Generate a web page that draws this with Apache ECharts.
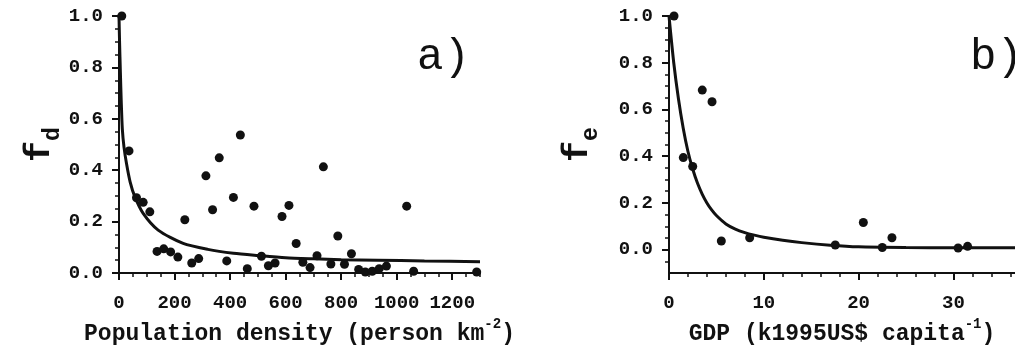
<!DOCTYPE html>
<html>
<head>
<meta charset="utf-8">
<script src="https://cdn.jsdelivr.net/npm/echarts@6/dist/echarts.min.js"></script>
<style>
html,body{margin:0;padding:0;background:#fff;}
#chart{width:1015px;height:345px;}
</style>
</head>
<body>
<div id="chart"></div>
<script>
// ---- Panel a) : population density vs f_d ----
const densX = [10,36,63,87,111,137,161,186,212,237,262,287,313,337,361,388,412,437,462,486,513,538,562,587,612,638,662,688,713,736,763,788,812,837,863,887,912,937,963,1036,1061,1288];
const densY = [1.0,0.475,0.293,0.275,0.238,0.084,0.094,0.082,0.062,0.207,0.039,0.056,0.378,0.246,0.448,0.047,0.294,0.537,0.017,0.260,0.065,0.028,0.039,0.220,0.263,0.115,0.042,0.021,0.067,0.413,0.035,0.144,0.034,0.075,0.014,0.004,0.007,0.017,0.027,0.260,0.007,0.004];
const fdCurveX = [0,2,5,8,12,18,27,40,57,87,141,231,320,412,500,600,700,800,930,1100,1300];
const fdCurveY = [1.0,0.9,0.78,0.67,0.56,0.49,0.426,0.355,0.297,0.232,0.167,0.115,0.092,0.077,0.068,0.059,0.055,0.052,0.05,0.047,0.044];

// ---- Panel b) : GDP vs f_e ----
const gdpX = [0.53,1.51,2.5,3.51,4.54,5.52,8.51,17.54,20.5,22.5,23.52,30.5,31.5];
const feY = [1.0,0.394,0.356,0.683,0.633,0.037,0.051,0.020,0.116,0.009,0.051,0.007,0.014];
const feCurveX = [0,0.5,1,1.5,2,2.5,3,3.5,4,4.5,5,6,7,8,9,10,12,14,17,20,25,30,36.5];
const feCurveY = [1.0,0.80,0.645,0.52,0.42,0.345,0.285,0.238,0.2,0.17,0.146,0.11,0.088,0.073,0.062,0.053,0.04,0.03,0.019,0.012,0.009,0.008,0.008];

// ---- tick labels ----
const densTicks = [0,200,400,600,800,1000,1200];
const gdpTicks = [0,10,20,30];
const fTicks = [0.0,0.2,0.4,0.6,0.8,1.0];

const panelA = 'a)';
const panelB = 'b)';
const xNameA = ['Population density (person km', '-2', ')'];
const xNameB = ['GDP (k1995US$ capita', '-1', ')'];
const yNameA = ['f', 'd'];
const yNameB = ['f', 'e'];

function steps(a, b, s) { const r = []; for (let v = a; v <= b + 1e-9; v += s) r.push(+v.toFixed(4)); return r; }

const FONT = 'Liberation Mono';
const INK = '#111111';

function pairs(xs, ys) { return xs.map((x, i) => [x, ys[i]]); }

function majorX(grid, max, ticks, name) {
  return {
    type: 'value', gridIndex: grid, min: 0, max: max, position: 'bottom',
    axisLine: { show: true, onZero: false, lineStyle: { color: INK, width: 2 } },
    axisTick: { show: true, customValues: ticks, length: 7, lineStyle: { color: INK, width: 2 } },
    axisLabel: { show: true, customValues: ticks, margin: 21, color: INK, hideOverlap: false,
      fontFamily: FONT, fontWeight: 'bold', fontSize: 19, formatter: v => String(v) },
    splitLine: { show: false },
    name: '{n|' + name[0] + '}{s|' + name[1] + '}{n|' + name[2] + '}',
    nameLocation: 'middle', nameGap: 37,
    nameTextStyle: { rich: {
      n: { fontFamily: FONT, fontWeight: 'bold', fontSize: 23, color: INK, lineHeight: 28, verticalAlign: 'bottom' },
      s: { fontFamily: FONT, fontWeight: 'bold', fontSize: 14, color: INK, lineHeight: 28, verticalAlign: 'top' }
    } }
  };
}
function minorX(grid, max, ticks) {
  return {
    type: 'value', gridIndex: grid, min: 0, max: max, position: 'bottom',
    axisLine: { show: true, onZero: false, lineStyle: { color: INK, width: 2 } },
    axisTick: { show: true, customValues: ticks, length: 4, lineStyle: { color: INK, width: 1.5 } },
    axisLabel: { show: false, customValues: ticks }, splitLine: { show: false }
  };
}
function majorY(grid, min, name, gap) {
  return {
    type: 'value', gridIndex: grid, min: min, max: 1.0, position: 'left',
    axisLine: { show: true, onZero: false, lineStyle: { color: INK, width: 2 } },
    axisTick: { show: true, customValues: fTicks, length: 7, lineStyle: { color: INK, width: 2 } },
    axisLabel: { show: true, customValues: fTicks, margin: 16, color: INK, hideOverlap: false,
      fontFamily: FONT, fontWeight: 'bold', fontSize: 19, formatter: v => Number(v).toFixed(1) },
    splitLine: { show: false },
    name: '{f|' + name[0] + '}{s|' + name[1] + '}',
    nameLocation: 'middle', nameRotate: 90, nameGap: gap,
    nameTextStyle: { rich: {
      f: { fontFamily: FONT, fontWeight: 'bold', fontSize: 35, color: INK, lineHeight: 42, verticalAlign: 'top' },
      s: { fontFamily: FONT, fontWeight: 'bold', fontSize: 23, color: INK, lineHeight: 42, verticalAlign: 'bottom' }
    } }
  };
}
function minorY(grid, min, ticks) {
  return {
    type: 'value', gridIndex: grid, min: min, max: 1.0, position: 'left',
    axisLine: { show: true, onZero: false, lineStyle: { color: INK, width: 2 } },
    axisTick: { show: true, customValues: ticks, length: 4, lineStyle: { color: INK, width: 1.5 } },
    axisLabel: { show: false, customValues: ticks }, splitLine: { show: false }
  };
}

const chart = echarts.init(document.getElementById('chart'), null, { renderer: 'canvas' });
chart.setOption({
  backgroundColor: '#fff',
  animation: false,
  grid: [
    { left: 119, top: 16, width: 361, height: 257, containLabel: false, outerBoundsMode: 'none' },
    { left: 669, top: 16, width: 346, height: 257, containLabel: false, outerBoundsMode: 'none' }
  ],
  xAxis: [
    majorX(0, 1300, densTicks, xNameA),
    minorX(0, 1300, steps(0, 1300, 50)),
    majorX(1, 36.5, gdpTicks, xNameB),
    minorX(1, 36.5, steps(0, 36, 2))
  ],
  yAxis: [
    majorY(0, 0, yNameA, 54),
    minorY(0, 0, steps(0, 1, 0.05)),
    majorY(1, -0.1, yNameB, 66),
    minorY(1, -0.1, steps(-0.05, 1, 0.05))
  ],
  graphic: [
    { type: 'text', left: 417, top: 35, style: { text: panelA, font: '44px "Liberation Mono"', fill: INK } },
    { type: 'text', left: 970, top: 35, style: { text: panelB, font: '44px "Liberation Mono"', fill: INK } }
  ],
  series: [
    { type: 'line', xAxisIndex: 1, yAxisIndex: 1, data: pairs(fdCurveX, fdCurveY), smooth: 0.25,
      showSymbol: false, lineStyle: { color: INK, width: 3 }, z: 2 },
    { type: 'scatter', xAxisIndex: 0, yAxisIndex: 0, data: pairs(densX, densY), symbolSize: 9,
      itemStyle: { color: INK, opacity: 1 }, z: 3 },
    { type: 'line', xAxisIndex: 3, yAxisIndex: 3, data: pairs(feCurveX, feCurveY), smooth: 0.25,
      showSymbol: false, lineStyle: { color: INK, width: 3 }, z: 2 },
    { type: 'scatter', xAxisIndex: 2, yAxisIndex: 2, data: pairs(gdpX, feY), symbolSize: 9,
      itemStyle: { color: INK, opacity: 1 }, z: 3 }
  ]
});
</script>
</body>
</html>
